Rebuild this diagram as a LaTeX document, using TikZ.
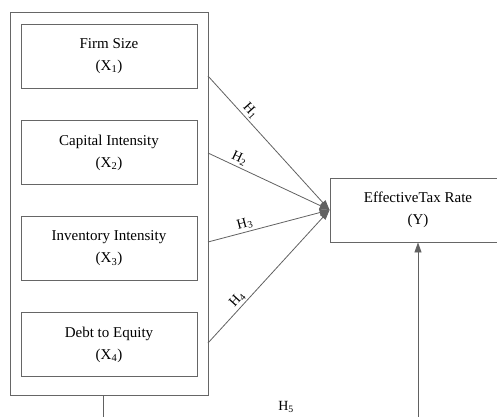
\documentclass[tikz,border=0pt]{standalone}
\usepackage{fontspec}
\setmainfont{Liberation Serif}
\usetikzlibrary{arrows.meta}

\tikzset{
  var/.style={draw=black!60,line width=0.9pt,minimum width=176pt,minimum height=64pt,
    align=center,font=\fontsize{15}{22}\selectfont},
  hyp/.style={draw=black!62,line width=0.8pt,->,>={Triangle[length=10pt,width=7pt]}},
  hlab/.style={font=\fontsize{14}{16}\selectfont,inner sep=2pt},
}

\begin{document}
\begin{tikzpicture}[x=1pt,y=1pt]
       \useasboundingbox(0,0)rectangle(497,416);
       \clip(0,0)rectangle(497,416);

       \node[var,minimum width=198pt,minimum height=383pt](outer)at(109,212.5){};%独立変数の外枠
       \node[var](x1)at(109,360){Firm Size\\(X\textsubscript{1})};
       \node[var](x2)at(109,263.5){Capital Intensity\\(X\textsubscript{2})};
       \node[var](x3)at(109,167.5){Inventory Intensity\\(X\textsubscript{3})};
       \node[var](x4)at(109,71.5){Debt to Equity\\(X\textsubscript{4})};
       \node[var](y)at(418,206){EffectiveTax Rate\\(Y)};%従属変数

       \coordinate(o1)at(208,340);%矢印の始点
       \coordinate(o2)at(208,263);
       \coordinate(o3)at(208,174);
       \coordinate(o4)at(208,73);
       \coordinate(b1)at(103,-20);%下の線

       \draw[hyp](o1)--(y.west)node[hlab,pos=0.3,above,sloped]{H\textsubscript{1}};
       \draw[hyp](o2)--(y.west)node[hlab,pos=0.23,above,sloped]{H\textsubscript{2}};
       \draw[hyp](o3)--(y.west)node[hlab,pos=0.32,above,sloped]{H\textsubscript{3}};
       \draw[hyp](o4)--(y.west)node[hlab,pos=0.29,above,sloped]{H\textsubscript{4}};

       \draw[hyp](outer.south -| b1)--(b1)--(b1 -| y.south)--(y.south);%H5
       \node[hlab](h5)at(286,9){H\textsubscript{5}};
\end{tikzpicture}
\end{document}
